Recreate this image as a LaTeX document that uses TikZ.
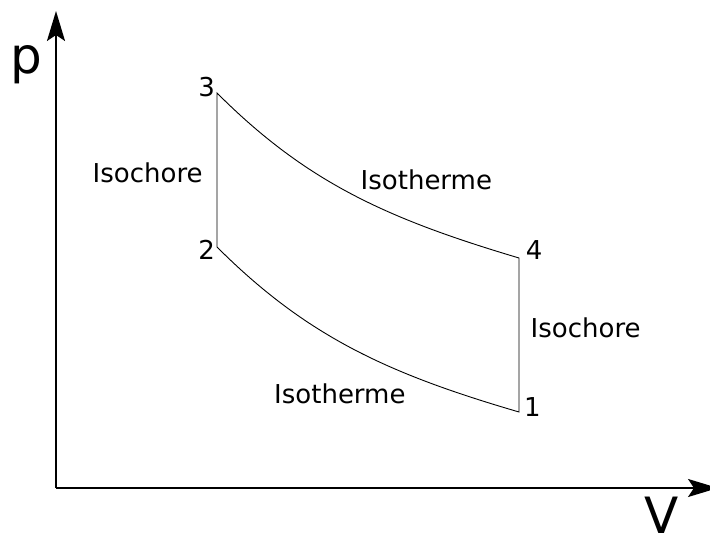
\documentclass[tikz,border=0pt]{standalone}
\usepackage{fontspec}
\setmainfont{DejaVu Sans}
\usetikzlibrary{arrows.meta}
\begin{document}
\begin{tikzpicture}[x=1pt,y=-1pt,
  axis/.style={line width=2pt,-{Stealth[length=30pt,width=18pt,inset=6pt]}},
  cyc/.style={line width=0.9pt,line join=miter},
  lbl/.style={inner sep=0pt,font=\fontsize{26}{30}\selectfont},
  big/.style={inner sep=0pt,font=\fontsize{50}{56}\selectfont}]
\useasboundingbox (0,0) rectangle (710,537);
% axes
\coordinate (O) at (56,488);
\coordinate (ytip) at (56,11);
\coordinate (xtip) at (718,488);
\draw[axis] (O) -- (ytip);
\draw[axis] (O) -- (xtip);
\node[big,anchor=base west] (plab) at (10.5,73.4) {p};
\node[big,anchor=base west] (vlab) at (644,533) {V};
% cycle corners
\coordinate (c3) at (217,93);
\coordinate (c4) at (519,258);
\coordinate (c1) at (519,412);
\coordinate (c2) at (217,247);
\draw[cyc] (c3) .. controls (307,183) and (388,219) .. (c4)
  -- (c1) .. controls (389,374) and (307,337) .. (c2) -- cycle;
% point numbers
\node[lbl,anchor=base east] (n3) at (215,97) {3};
\node[lbl,anchor=base east] (n2) at (215,260) {2};
\node[lbl,anchor=base west] (n4) at (525.7,259.3) {4};
\node[lbl,anchor=base west] (n1) at (524,416.7) {1};
% process labels
\node[lbl,anchor=base west] (isoL) at (92.5,182.3) {Isochore};
\node[lbl,anchor=base west] (isoT) at (360.5,189.3) {Isotherme};
\node[lbl,anchor=base west] (isoR) at (530.5,337.3) {Isochore};
\node[lbl,anchor=base west] (isoB) at (274,403.3) {Isotherme};
\end{tikzpicture}
\end{document}
